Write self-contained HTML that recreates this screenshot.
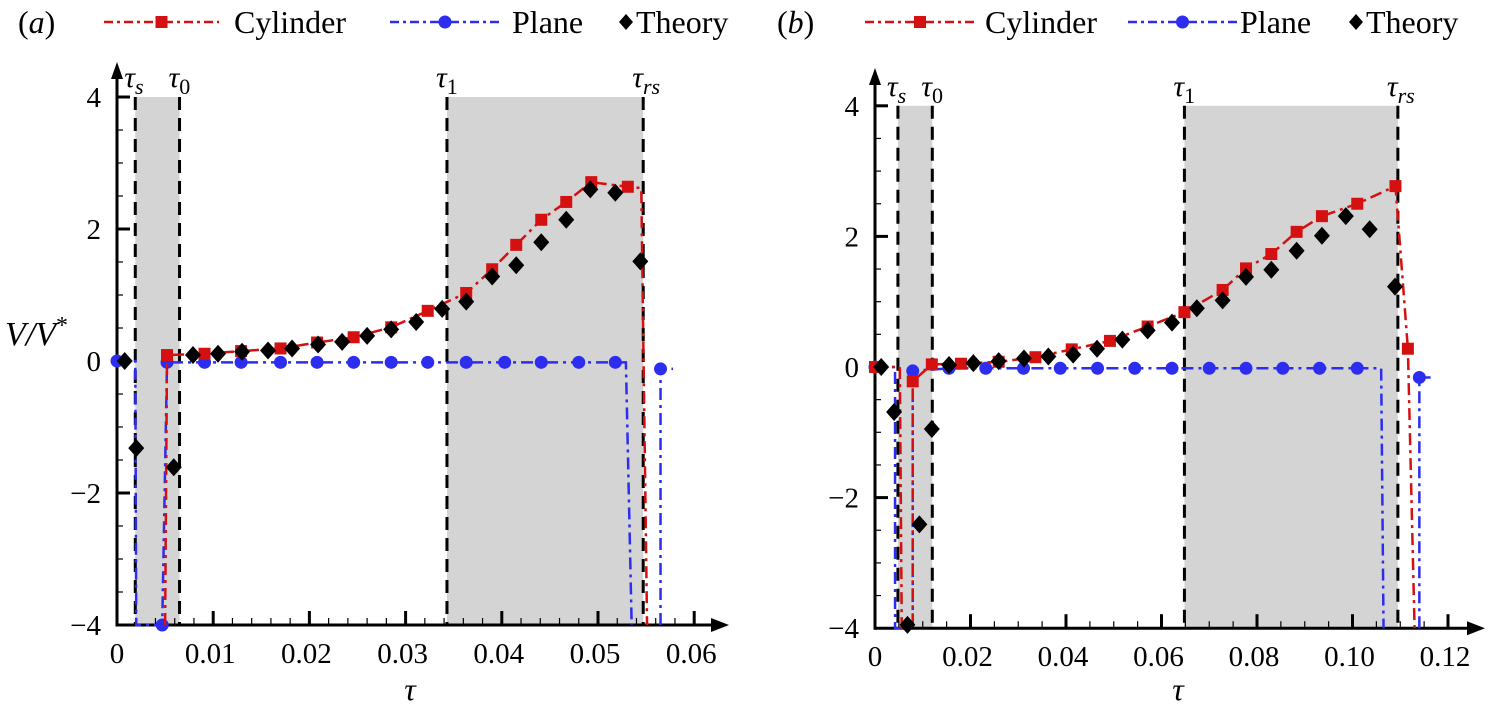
<!DOCTYPE html>
<html><head><meta charset="utf-8">
<style>
html,body{margin:0;padding:0;background:#fff;}
svg, svg text{font-family:"Liberation Serif","Times New Roman","DejaVu Serif",serif;}
</style></head>
<body>
<svg id="fig" width="1491" height="717" viewBox="0 0 1491 717" xmlns="http://www.w3.org/2000/svg" font-family="Liberation Serif, Times New Roman, serif"></svg>
<script>
// ---------- Panel (a) data ----------
const aCylT=[0.0050,0.0052,0.0091,0.0129,0.0170,0.0208,0.0246,0.0285,0.0323,0.0363,0.0390,0.0415,0.0441,0.0467,0.0493,0.0531,0.0545,0.0551];
const aCylV=[-4,0.09,0.11,0.15,0.19,0.28,0.36,0.51,0.76,1.03,1.39,1.76,2.14,2.41,2.71,2.64,2.62,-4];
const aCylM=[0,1,1,1,1,1,1,1,1,1,1,1,1,1,1,1,0,0];
const aPlaT=[0,0.0019,0.0020,0.0047,0.0052,0.0091,0.0129,0.0170,0.0208,0.0246,0.0285,0.0323,0.0363,0.0403,0.0441,0.0480,0.0518,0.0529,0.0535];
const aPlaV=[0,0,-4,-4,-0.02,-0.02,-0.02,-0.02,-0.02,-0.02,-0.02,-0.02,-0.02,-0.02,-0.02,-0.02,-0.02,-0.02,-4];
const aPlaM=[1,0,0,1,1,1,1,1,1,1,1,1,1,1,1,1,1,0,0];
const aPla2T=[0.0565,0.0565,0.0578];
const aPla2V=[-4,-0.12,-0.12];
const aThT=[0.0008,0.0020,0.0059,0.0079,0.0105,0.0130,0.0157,0.0182,0.0209,0.0234,0.0260,0.0285,0.0311,0.0338,0.0363,0.0390,0.0415,0.0441,0.0467,0.0492,0.0518,0.0544];
const aThV=[0,-1.32,-1.61,0.09,0.11,0.14,0.16,0.19,0.25,0.29,0.38,0.48,0.59,0.79,0.90,1.28,1.45,1.80,2.14,2.60,2.55,1.51];
const aTau=[0.0019,0.0065,0.0343,0.0547];
// ---------- Panel (b) data ----------
const bCylT=[0,0.0052,0.0056,0.0079,0.0079,0.0119,0.0180,0.0259,0.0336,0.0412,0.0492,0.0571,0.0648,0.0728,0.0777,0.0830,0.0883,0.0936,0.1010,0.1090,0.1116,0.1130];
const bCylV=[0,0,-4,-4,-0.22,0.04,0.05,0.08,0.15,0.27,0.40,0.62,0.84,1.18,1.51,1.73,2.07,2.31,2.50,2.77,0.28,-4];
const bCylM=[1,0,0,0,1,1,1,1,1,1,1,1,1,1,1,1,1,1,1,1,1,0];
const bPlaT=[0,0.0042,0.0042,0.0079,0.0079,0.0155,0.0232,0.0311,0.0388,0.0466,0.0544,0.0622,0.0700,0.0777,0.0854,0.0931,0.1010,0.1060,0.1065];
const bPlaV=[0,0,-4,-4,-0.06,-0.02,-0.02,-0.02,-0.02,-0.02,-0.02,-0.02,-0.02,-0.02,-0.02,-0.02,-0.02,-0.02,-4];
const bPlaM=[1,0,0,0,1,1,1,1,1,1,1,1,1,1,1,1,1,0,0];
const bPla2T=[0.1140,0.1140,0.1165];
const bPla2V=[-4,-0.16,-0.16];
const bThT=[0.0013,0.0040,0.0068,0.0093,0.0119,0.0155,0.0206,0.0259,0.0312,0.0363,0.0415,0.0465,0.0518,0.0571,0.0622,0.0674,0.0728,0.0777,0.0830,0.0883,0.0936,0.0986,0.1036,0.1089];
const bThV=[0,-0.69,-3.95,-2.41,-0.95,0.03,0.06,0.09,0.13,0.16,0.19,0.28,0.42,0.56,0.68,0.90,1.02,1.38,1.49,1.78,2.01,2.31,2.11,1.23];
const bTau=[0.0048,0.0120,0.0648,0.1095];
const aXTicks=["0","0.01","0.02","0.03","0.04","0.05","0.06"];
const bXTicks=["0","0.02","0.04","0.06","0.08","0.10","0.12"];
const yTicks=["4","2","0","\u22122","\u22124"];
const yTickVals=[4,2,0,-2,-4];
const tauNames=[["s",1],["0",0],["1",0],["rs",1]];

const FONT='"Liberation Serif","Times New Roman",serif';
const NS="http://www.w3.org/2000/svg";
const svg=document.getElementById('fig');
function mk(tag,attrs,parent){const e=document.createElementNS(NS,tag);for(const k in attrs)e.setAttribute(k,attrs[k]);if(tag==='text')e.style.fontFamily=FONT;(parent||svg).appendChild(e);return e;}

function panel(cfg){
  const g=mk('g',{});
  
  
  const X=t=>cfg.x0+t*cfg.xs, Y=v=>cfg.y0-v*cfg.ys;
  for(const [a,b] of [[cfg.tau[0],cfg.tau[1]],[cfg.tau[2],cfg.tau[3]]]){
    const r=mk('rect',{x:X(a),y:Y(4),width:X(b)-X(a),height:Y(-4)-Y(4),fill:'#d4d4d4'},g);
    
    
  }
  cfg.tau.forEach((t,i)=>{
    const l=mk('line',{x1:X(t),x2:X(t),y1:Y(4),y2:Y(-4),stroke:'#000','stroke-width':3,'stroke-dasharray':'13,8'},g);
    
    
    const tx=mk('text',{x:X(t)-11,y:Y(4)-10,'font-size':30,'font-style':'italic'},g);
    
    
    tx.textContent='\u03C4';
    const s=mk('tspan',{'font-size':22,dy:7,'font-style':tauNames[i][1]?'italic':'normal'},tx);s.textContent=tauNames[i][0];
  });
  const ax=mk('g',{},g);
  
  
  mk('line',{x1:cfg.x0,x2:cfg.xEnd-12,y1:Y(-4),y2:Y(-4),stroke:'#000','stroke-width':3},ax);
  mk('polygon',{points:`${cfg.xEnd},${Y(-4)} ${cfg.xEnd-18},${Y(-4)-7} ${cfg.xEnd-18},${Y(-4)+7}`,fill:'#000'},ax);
  mk('line',{x1:cfg.x0,x2:cfg.x0,y1:Y(-4)+1.5,y2:cfg.yTop+12,stroke:'#000','stroke-width':3},ax);
  mk('polygon',{points:`${cfg.x0},${cfg.yTop} ${cfg.x0-6},${cfg.yTop+17} ${cfg.x0+6},${cfg.yTop+17}`,fill:'#000'},ax);
  for(let t=cfg.minor; t<=cfg.xMax+1e-9; t+=cfg.minor){
    const isMaj=Math.abs(t/cfg.major-Math.round(t/cfg.major))<1e-6;
    mk('line',{x1:X(t),x2:X(t),y1:Y(-4),y2:Y(-4)-(isMaj?14:7),stroke:'#000','stroke-width':isMaj?3:1.2},ax);
  }
  cfg.xt.forEach((lab,i)=>{
    const tx=mk('text',{x:X(i*cfg.major)-(i==0?0:3),y:Y(-4)+38,'font-size':29,'text-anchor':'middle'},ax);
    
    
    tx.textContent=lab;
  });
  for(let v=-3.5; v<=4.01; v+=0.5){
    const isMaj=Math.abs(v/2-Math.round(v/2))<1e-6;
    mk('line',{x1:cfg.x0,x2:cfg.x0+(isMaj?13:6),y1:Y(v),y2:Y(v),stroke:'#000','stroke-width':isMaj?3:1.2},ax);
  }
  yTicks.forEach((lab,i)=>{
    const tx=mk('text',{x:cfg.x0-16,y:Y(yTickVals[i])+10,'font-size':29,'text-anchor':'end'},ax);
    
    
    tx.textContent=lab;
  });
  const xl=mk('text',{x:cfg.xLab,y:700,'font-size':32,'font-style':'italic','text-anchor':'middle'},g);
  
  
  xl.textContent='\u03C4';
  function series(T,V,M,color,marker,nm){
    const sg=mk('g',{},g);
    
    
    const pts=T.map((t,i)=>X(t)+','+Y(V[i])).join(' ');
    mk('polyline',{points:pts,fill:'none',stroke:color,'stroke-width':2.5,'stroke-dasharray':'12,5,3,5'},sg);
    T.forEach((t,i)=>{ if(M&&!M[i])return;
      let m;
      if(marker=='sq') m=mk('rect',{x:X(t)-6,y:Y(V[i])-6,width:12,height:12,fill:color},sg);
      else m=mk('circle',{cx:X(t),cy:Y(V[i]),r:6.5,fill:color},sg);
      
      
    });
  }
  series(cfg.plaT,cfg.plaV,cfg.plaM,'#2d2df0','ci','plane-series');
  series(cfg.pla2T,cfg.pla2V,[0,1,0],'#2d2df0','ci','plane-series-tail');
  series(cfg.cylT,cfg.cylV,cfg.cylM,'#d41010','sq','cylinder-series');
  const tg=mk('g',{},g);
  
  
  cfg.thT.forEach((t,i)=>{
    const x=X(t),y=Y(cfg.thV[i]);
    const d=mk('polygon',{points:`${x},${y-9} ${x+8},${y} ${x},${y+9} ${x-8},${y}`,fill:'#000'},tg);
    
    
  });
}
panel({name:'panel-a',x0:117,xs:9620,y0:361,ys:66,yTop:62,xEnd:729,xMax:0.0605,minor:0.002,major:0.01,xt:aXTicks,tau:aTau,xLab:410,
  cylT:aCylT,cylV:aCylV,cylM:aCylM,plaT:aPlaT,plaV:aPlaV,plaM:aPlaM,pla2T:aPla2T,pla2V:aPla2V,thT:aThT,thV:aThV});
panel({name:'panel-b',x0:875,xs:4775,y0:367,ys:65.3,yTop:68,xEnd:1485,xMax:0.121,minor:0.005,major:0.02,xt:bXTicks,tau:bTau,xLab:1178,
  cylT:bCylT,cylV:bCylV,cylM:bCylM,plaT:bPlaT,plaV:bPlaV,plaM:bPlaM,pla2T:bPla2T,pla2V:bPla2V,thT:bThT,thV:bThV});

const yl=mk('text',{x:5,y:345,'font-size':34,'font-style':'italic'});


yl.textContent='V/V';
const ys=mk('tspan',{dy:-12,'font-size':24,'font-style':'normal'},yl);ys.textContent='*';

function legend(px,lab,cyl,pla,th){
  const lg=mk('g',{});
  
  
  const p=mk('text',{x:px,y:33,'font-size':32},lg);
  
  
  p.textContent='(';const it=mk('tspan',{'font-style':'italic'},p);it.textContent=lab;const c=mk('tspan',{},p);c.textContent=')';
  const entries=[[cyl,'#d41010','sq','Cylinder'],[pla,'#2d2df0','ci','Plane']];
  entries.forEach(([x,col,m,txt])=>{
    const e=mk('g',{},lg);
    
    
    mk('line',{x1:x[0],x2:x[1],y1:22,y2:22,stroke:col,'stroke-width':2.5,'stroke-dasharray':'9,4,3,4'},e);
    const mx=(x[0]+x[1])/2;
    if(m=='sq')mk('rect',{x:mx-6,y:16,width:12,height:12,fill:col},e);else mk('circle',{cx:mx,cy:22,r:6.5,fill:col},e);
    const t=mk('text',{x:x[2],y:33,'font-size':32},e);t.textContent=txt;
  });
  const e=mk('g',{},lg);
  
  
  mk('polygon',{points:`${th},${14} ${th+7},22 ${th},30 ${th-7},22`,fill:'#000'},e);
  const t=mk('text',{x:th+10,y:33,'font-size':32},e);t.textContent='Theory';
}
legend(18,'a',[104,219,234],[390,500,512],626);
legend(777,'b',[865,975,985],[1128,1237,1240],1356);
</script>
</body></html>
